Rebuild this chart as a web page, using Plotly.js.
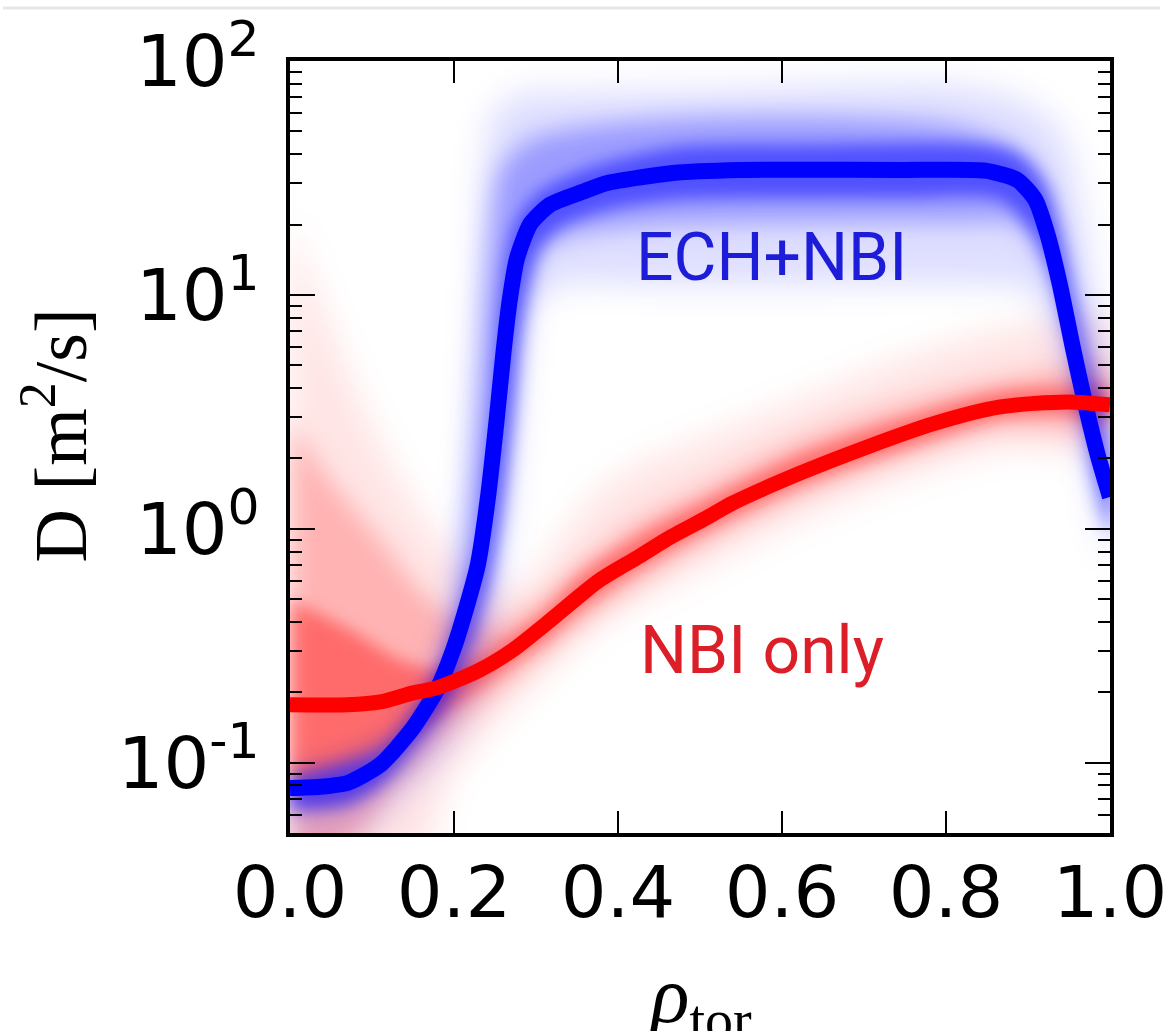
<!DOCTYPE html>
<html><head><meta charset="utf-8">
<script src="https://cdn.plot.ly/plotly-3.0.1.min.js"></script>
<style>
html,body{margin:0;padding:0;background:#fff}
#chart .scatterlayer .trace:nth-child(1) .js-fill,
#chart .scatterlayer .trace:nth-child(4) .js-fill{filter:url(#softOuter);}
#chart .scatterlayer .trace:nth-child(2) .js-fill,
#chart .scatterlayer .trace:nth-child(5) .js-fill{filter:url(#softMid);}
#chart .scatterlayer .trace:nth-child(3) .js-fill,
#chart .scatterlayer .trace:nth-child(6) .js-fill{filter:url(#softInner);}
</style>
</head><body>
<svg width="0" height="0" style="position:absolute;left:0;top:0"><defs>
<filter id="softOuter" x="-30%" y="-30%" width="160%" height="160%"><feGaussianBlur stdDeviation="16"/></filter>
<filter id="softMid" x="-30%" y="-30%" width="160%" height="160%"><feGaussianBlur stdDeviation="12"/></filter>
<filter id="softInner" x="-30%" y="-30%" width="160%" height="160%"><feGaussianBlur stdDeviation="8"/></filter>
</defs></svg>
<div id="chart" style="width:1167px;height:1031px"></div>
<script>
// Central profiles
const rhoBlue=[0,0.037,0.070,0.110,0.150,0.179,0.199,0.216,0.229,0.241,0.252,0.260,0.268,0.277,0.293,0.317,0.357,0.387,0.467,0.549,0.622,0.744,0.848,0.887,0.909,0.924,0.939,0.954,0.970,0.985,1.0];
const dBlue=[0.078,0.079,0.082,0.098,0.141,0.205,0.304,0.473,0.70,1.33,2.92,5.54,9.53,14.4,20.1,24.3,27.6,30.1,33.2,34.2,34.3,34.2,34.0,31.0,25.5,18.0,11.0,6.11,3.39,2.07,1.37];
const rhoRed=[0,0.070,0.110,0.150,0.179,0.232,0.272,0.313,0.354,0.378,0.427,0.460,0.509,0.540,0.622,0.704,0.784,0.866,0.948,1.0];
const dRed=[0.177,0.177,0.182,0.199,0.209,0.250,0.304,0.395,0.52,0.605,0.767,0.906,1.12,1.29,1.73,2.24,2.81,3.32,3.49,3.39];

// Uncertainty bands (upper: left->right, lower: right->left)
const blueOuterUpRho=[0,0.110,0.159,0.189,0.207,0.220,0.229,0.238,0.250,0.280,0.378,0.5,0.683,0.805,0.890,0.939,0.963,0.982,1.0];
const blueOuterUpD=[0.0933,0.119,0.186,0.336,0.738,2.18,9.5,41.7,61.8,71.6,73.8,75.2,78.9,78.9,68.1,50.7,25.5,9.5,4.78];
const blueOuterLoRho=[1.0,0.976,0.951,0.927,0.902,0.841,0.622,0.439,0.329,0.293,0.280,0.268,0.256,0.244,0.220,0.183,0.134,0.073,0];
const blueOuterLoD=[0.738,1.79,4.33,7.8,10.5,11.0,11.0,11.0,11.0,8.6,3.56,1.33,0.605,0.304,0.168,0.103,0.0695,0.045,0.04];

const blueMidUpRho=[0,0.134,0.183,0.210,0.226,0.241,0.256,0.293,0.378,0.5,0.683,0.805,0.878,0.915,0.939,0.963,0.988,1.0];
const blueMidUpD=[0.0846,0.132,0.250,0.738,2.92,15.6,34.2,45.9,53.2,57.1,57.1,53.2,43.7,32.6,19.0,7.8,2.92,1.97];
const blueMidLoRho=[1.0,0.976,0.951,0.927,0.890,0.805,0.622,0.439,0.341,0.305,0.287,0.271,0.256,0.241,0.220,0.183,0.134,0.073,0];
const blueMidLoD=[0.99,2.18,6.43,12.8,19.9,20.5,20.5,19.9,18.0,15.6,9.5,3.56,1.33,0.605,0.304,0.153,0.0933,0.0695,0.0630];

const blueInUpRho=[0,0.110,0.150,0.179,0.199,0.216,0.229,0.238,0.248,0.254,0.262,0.274,0.299,0.357,0.467,0.622,0.848,0.890,0.921,0.939,0.957,0.976,1.0];
const blueInUpD=[0.0863,0.111,0.160,0.238,0.352,0.548,0.83,1.62,3.56,7.08,12.8,19.9,26.7,34.2,42.5,43.7,43.7,39.7,29.5,18.0,9.5,4.78,1.97];
const blueInLoRho=[1.0,0.982,0.970,0.957,0.941,0.924,0.902,0.866,0.744,0.549,0.467,0.387,0.329,0.305,0.290,0.280,0.271,0.260,0.246,0.229,0.207,0.183,0.146,0.110,0.070,0];
const blueInLoD=[0.94,1.62,2.92,5.27,8.6,13.4,19.0,25.5,26.0,26.0,25.5,23.1,19.3,15.6,10.5,6.43,2.92,1.33,0.668,0.408,0.250,0.168,0.114,0.0805,0.0662,0.0630];

const redOuterUpRho=[0,0.037,0.085,0.134,0.183,0.232,0.280,0.329,0.378,0.439,0.5,0.622,0.744,0.866,0.939,1.0];
const redOuterUpD=[20.9,9.5,3.56,1.62,0.90,0.605,0.548,0.90,1.47,1.97,2.40,3.56,5.27,7.08,7.8,7.8];
const redOuterLoRho=[1.0,0.866,0.744,0.622,0.5,0.378,0.317,0.256,0.195,0.159,0];
const redOuterLoD=[2.29,2.18,1.62,1.09,0.668,0.389,0.250,0.153,0.0846,0.04,0.035];

const redMidUpRho=[0,0.049,0.110,0.159,0.207,0.256,0.305,0.354,0.427,0.5,0.622,0.744,0.866,1.0];
const redMidUpD=[2.92,1.62,0.90,0.548,0.408,0.389,0.497,0.702,1.09,1.47,2.40,3.39,4.33,4.78];
const redMidLoRho=[1.0,0.866,0.744,0.622,0.5,0.402,0.329,0.256,0.195,0.134,0.073,0];
const redMidLoD=[2.78,2.70,2.03,1.40,0.856,0.52,0.336,0.205,0.138,0.0846,0.045,0.04];

const redInUpRho=[0,0.073,0.134,0.183,0.232,0.272,0.313,0.354,0.427,0.509,0.622,0.744,0.866,0.948,1.0];
const redInUpD=[0.497,0.370,0.276,0.250,0.290,0.352,0.451,0.635,0.94,1.33,2.07,2.92,3.85,4.01,3.93];
const redInLoRho=[1.0,0.948,0.866,0.744,0.622,0.509,0.427,0.354,0.313,0.272,0.232,0.183,0.134,0.073,0];
const redInLoD=[2.97,3.09,2.97,2.18,1.54,0.99,0.68,0.451,0.336,0.266,0.210,0.160,0.119,0.0933,0.0805];

// Axis ticks
const xTickVals=[0,0.2,0.4,0.6,0.8,1.0];
const xTickText=['0.0','0.2','0.4','0.6','0.8','1.0'];
const yTickVals=[0.1,1,10,100];
const yTickText=['10<sup>-1</sup>','10<sup>0</sup>','10<sup>1</sup>','10<sup>2</sup>'];
const yMinorVals=[0.06,0.07,0.08,0.09,0.2,0.3,0.4,0.5,0.6,0.7,0.8,0.9,2,3,4,5,6,7,8,9,20,30,40,50,60,70,80,90];

function band(xu,yu,xl,yl,color){
  return {x:xu.concat(xl), y:yu.concat(yl), type:'scatter', mode:'lines', fill:'toself', fillcolor:color,
          line:{width:0, shape:'spline', smoothing:0.8}, hoverinfo:'skip', showlegend:false};
}

const traces=[
  band(redOuterUpRho,redOuterUpD,redOuterLoRho,redOuterLoD,'rgba(255,0,0,0.10)'),
  band(redMidUpRho,redMidUpD,redMidLoRho,redMidLoD,'rgba(255,0,0,0.22)'),
  band(redInUpRho,redInUpD,redInLoRho,redInLoD,'rgba(255,0,0,0.40)'),
  band(blueOuterUpRho,blueOuterUpD,blueOuterLoRho,blueOuterLoD,'rgba(0,0,255,0.13)'),
  band(blueMidUpRho,blueMidUpD,blueMidLoRho,blueMidLoD,'rgba(0,0,255,0.30)'),
  band(blueInUpRho,blueInUpD,blueInLoRho,blueInLoD,'rgba(0,0,255,0.48)'),
  {x:rhoBlue,y:dBlue,type:'scatter',mode:'lines',line:{color:'#0000ff',width:16,shape:'spline',smoothing:0.6},name:'ECH+NBI',showlegend:false},
  {x:rhoRed,y:dRed,type:'scatter',mode:'lines',line:{color:'#ff0000',width:15,shape:'spline',smoothing:0.8},name:'NBI only',showlegend:false}
];

const tickFont={family:'DejaVu Sans',size:72,color:'#000'};
const layout={
  width:1167,height:1031,
  margin:{l:290,r:57,t:61,b:198,pad:0},
  paper_bgcolor:'#fff',plot_bgcolor:'#fff',
  showlegend:false,
  xaxis:{range:[0,1],tickmode:'array',tickvals:xTickVals,ticktext:xTickText,ticks:'inside',ticklen:22,tickwidth:2.5,tickcolor:'#000',
         showline:true,linewidth:4,linecolor:'#000',mirror:'ticks',showgrid:false,zeroline:false,tickfont:tickFont,
         ticklabeloverflow:'allow',ticklabelstandoff:-6},
  yaxis:{type:'log',range:[-1.3,2],tickmode:'array',tickvals:yTickVals,ticktext:yTickText,ticks:'inside',ticklen:25,tickwidth:2.5,tickcolor:'#000',
         showline:true,linewidth:4,linecolor:'#000',mirror:'ticks',showgrid:false,zeroline:false,tickfont:tickFont,ticklabelstandoff:12,
         ticklabeloverflow:'allow',
         minor:{tickmode:'array',tickvals:yMinorVals,ticks:'inside',ticklen:12,tickwidth:2,tickcolor:'#000',showgrid:false}},
  annotations:[
    {xref:'paper',yref:'paper',x:0.5866,y:0.745,text:'ECH+NBI',showarrow:false,xanchor:'center',yanchor:'middle',
     font:{family:'Roboto',size:66,color:'#1c1cd9'}},
    {xref:'paper',yref:'paper',x:0.5756,y:0.237,text:'NBI only',showarrow:false,xanchor:'center',yanchor:'middle',
     font:{family:'Roboto',size:66,color:'#dc1e28'}},
    {xref:'paper',yref:'paper',x:-0.2866,y:0.515,text:'D [m<sup>2</sup>/s]',showarrow:false,textangle:-90,xanchor:'center',yanchor:'middle',
     font:{family:'Liberation Serif',size:74,color:'#000'}},
    {xref:'paper',yref:'paper',x:0.5,y:-0.150,text:'<i>ρ</i><sub>tor</sub>',showarrow:false,xanchor:'center',yanchor:'top',
     font:{family:'Liberation Serif',size:80,color:'#000'}}
  ],
  shapes:[
    {type:'line',xref:'paper',yref:'paper',x0:-0.35,x1:1.061,y0:1.0687,y1:1.0687,line:{color:'#e6e6e6',width:3}}
  ]
};
Plotly.newPlot('chart',traces,layout,{staticPlot:true,displayModeBar:false});
</script></body></html>
